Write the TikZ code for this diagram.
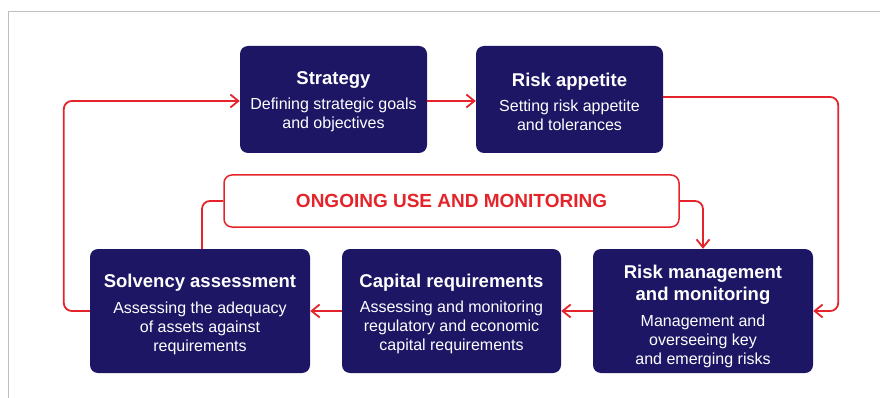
\documentclass[tikz,border=0pt]{standalone}
\usepackage{fontspec}
\setmainfont{Liberation Sans}
\usetikzlibrary{arrows.meta}
\definecolor{navy}{RGB}{29,22,100}
\definecolor{flowred}{RGB}{228,36,42}
\definecolor{framegray}{RGB}{190,190,190}
\newcommand{\ttlfont}{\fontsize{18.5}{22}\selectfont\bfseries}
\newcommand{\topstrut}[1]{\rule{0pt}{#1}}
\tikzset{
  box/.style={fill=navy, rounded corners=8pt, text=white, align=center,
    font=\fontsize{16}{19}\selectfont, inner sep=0pt},
  topbox/.style={box, minimum width=187pt, minimum height=107pt},
  botbox/.style={box, minimum width=220pt, minimum height=124pt},
  ongoing/.style={draw=flowred, line width=1.5pt, rounded corners=8pt, fill=white,
    minimum width=455pt, minimum height=52pt, text=flowred,
    font=\fontsize{19}{22}\selectfont\bfseries},
  flow/.style={draw=flowred, line width=1.8pt, rounded corners=8pt},
  arr/.style={flow, -{Straight Barb[length=8pt,width=13pt]}},
}
\begin{document}
\begin{tikzpicture}[x=1pt,y=-1pt]
\useasboundingbox (0,0) rectangle (880,398);
\draw[framegray, line width=1pt] (8,398) -- (8,12) -- (880,12);
\node[topbox] (st) at (333.5,99.5) {\topstrut{17.5pt}{\ttlfont Strategy}\\[6pt]Defining strategic goals\\and objectives};
\node[topbox] (ra) at (569.5,99.5) {\topstrut{17.5pt}{\ttlfont Risk appetite}\\[6pt]Setting risk appetite\\and tolerances};
\node[botbox] (sa) at (200,311) {\topstrut{19.5pt}{\ttlfont Solvency assessment}\\[7pt]Assessing the adequacy\\of assets against\\requirements};
\node[botbox, minimum width=219pt] (cr) at (451.5,311) {\topstrut{19pt}{\ttlfont Capital requirements}\\[6.5pt]Assessing and monitoring\\regulatory and economic\\capital requirements};
\node[botbox] (rm) at (703,311) {\topstrut{23.5pt}{\ttlfont Risk management}\\[3pt]{\ttlfont and monitoring}\\[7pt]Management and\\overseeing key\\and emerging risks};
\node[ongoing] (og) at (451.5,201) {ONGOING USE AND MONITORING};
\draw[arr] (sa.west) -- ++(-26,0) |- ([yshift=-1.5pt]st.west);
\draw[arr] ([yshift=-1.5pt]st.east) -- ([yshift=-1.5pt]ra.west);
\draw[arr] ([yshift=2.5pt]ra.east) -- ++(175,0) |- (rm.east);
\draw[arr] (rm.west) -- (cr.east);
\draw[arr] (cr.west) -- (sa.east);
\draw[flow] ([xshift=2pt]sa.north) |- (og.west);
\draw[arr] (og.east) -| (rm.north);
\end{tikzpicture}
\end{document}
